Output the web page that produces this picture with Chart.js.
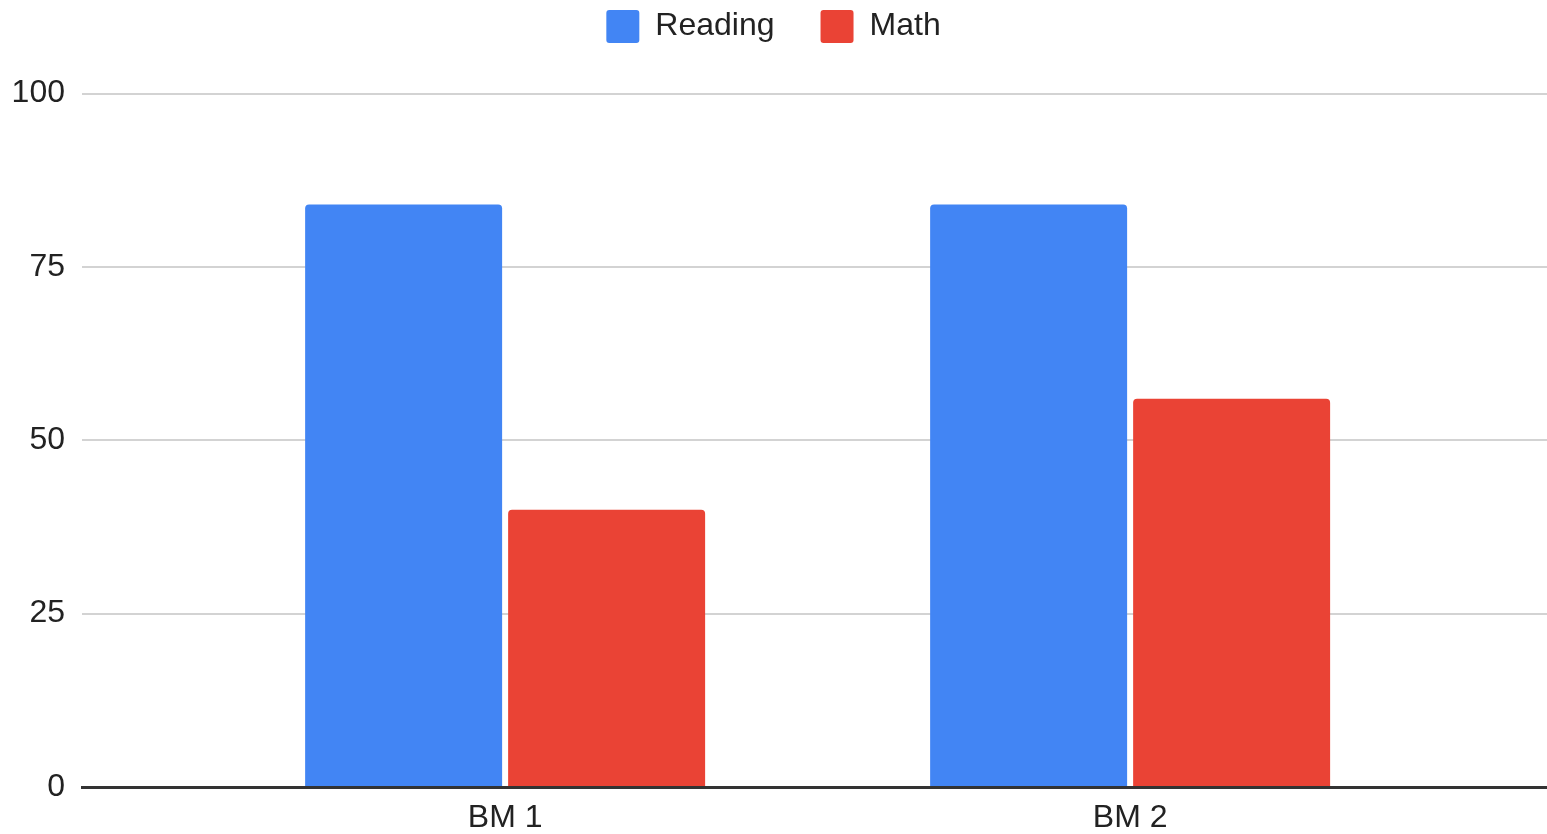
<!DOCTYPE html>
<html>
<head>
<meta charset="utf-8">
<script src="https://cdn.jsdelivr.net/npm/chart.js@4"></script>
<style>
  html, body { margin: 0; padding: 0; background: #ffffff; }
  #wrap { width: 1547px; height: 834px; }
</style>
</head>
<body>
<div id="wrap"><canvas id="chart"></canvas></div>
<script>
// Benchmark results per subject
const categories = ['BM 1', 'BM 2'];
const readingScores = [84, 84];
const mathScores = [40, 56];
const yTickValues = [0, 25, 50, 75, 100];

const FONT = "'Liberation Sans', Arial, sans-serif";
const TEXT = '#222222';

const toPoints = values => categories.map((_, i) => ({ x: i, y: values[i] }));

const barStyle = {
  categoryPercentage: 0.6496,
  barPercentage: 0.9704,
  borderRadius: { topLeft: 4, topRight: 4, bottomLeft: 0, bottomRight: 0 },
  borderSkipped: 'start',
  borderWidth: 0
};

new Chart(document.getElementById('chart'), {
  type: 'bar',
  data: {
    datasets: [
      Object.assign({ label: 'Reading', data: toPoints(readingScores), backgroundColor: '#4285F4' }, barStyle),
      Object.assign({ label: 'Math', data: toPoints(mathScores), backgroundColor: '#EA4335' }, barStyle)
    ]
  },
  options: {
    responsive: true,
    maintainAspectRatio: false,
    animation: false,
    devicePixelRatio: 1,
    layout: { padding: { top: -36, left: 0, right: 0, bottom: 0 } },
    plugins: {
      tooltip: { enabled: false },
      legend: {
        position: 'top',
        align: 'center',
        labels: {
          font: { family: FONT, size: 32 },
          color: TEXT,
          boxWidth: 33,
          boxHeight: 33,
          padding: 46,
          useBorderRadius: true,
          borderRadius: 3
        }
      }
    },
    scales: {
      x: {
        type: 'linear',
        offset: false,
        min: -0.677,
        max: 1.667,
        grid: { display: false, drawTicks: false, offset: false },
        border: { display: true, color: '#333333', width: 3, z: 1 },
        afterBuildTicks: scale => { scale.ticks = categories.map((_, i) => ({ value: i })); },
        afterFit: scale => { scale.height = 47; },
        ticks: {
          autoSkip: false,
          maxRotation: 0,
          padding: 12,
          color: TEXT,
          font: { family: FONT, size: 32 },
          callback: value => categories[value] ?? ''
        }
      },
      y: {
        min: 0,
        max: 105.85,
        grid: { color: '#d3d3d3', lineWidth: 2, drawTicks: false },
        border: { display: false },
        afterBuildTicks: scale => { scale.ticks = yTickValues.map(v => ({ value: v })); },
        afterFit: scale => { scale.width = 82; },
        ticks: {
          padding: 17,
          color: TEXT,
          font: { family: FONT, size: 32 }
        }
      }
    }
  }
});
</script>
</body>
</html>
